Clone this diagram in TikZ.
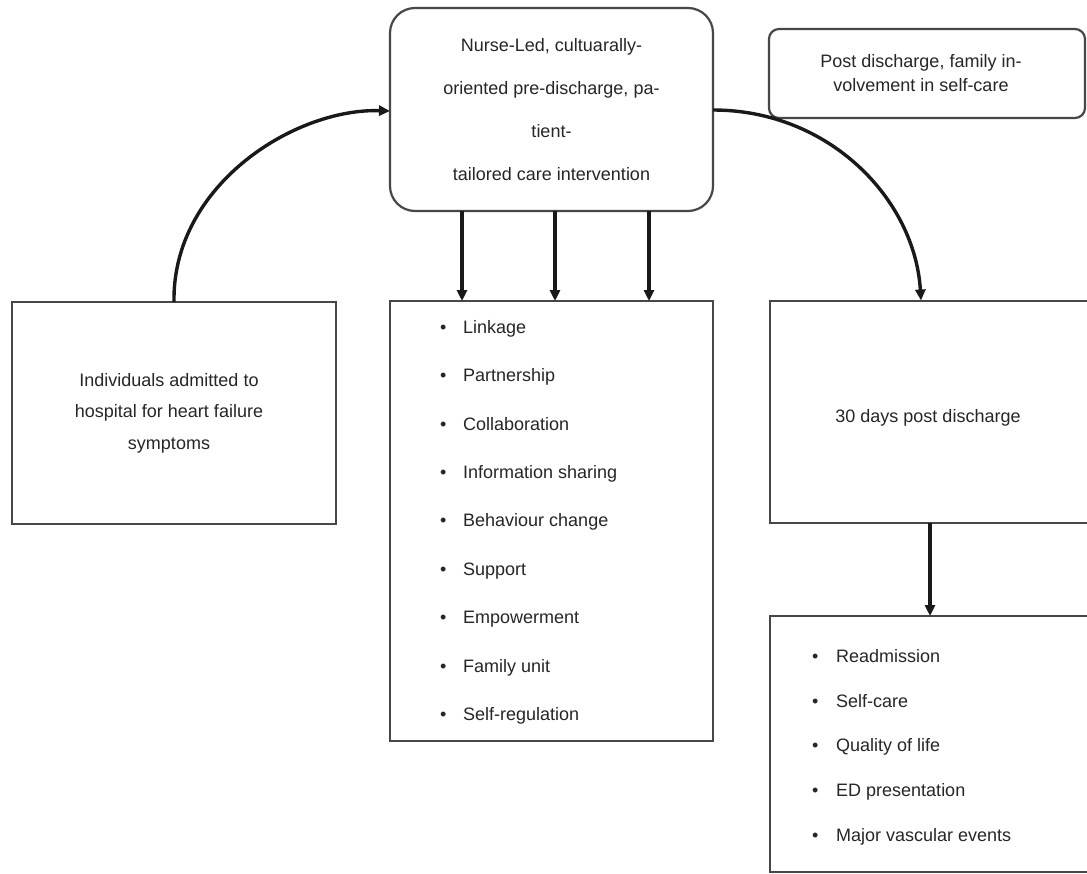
\documentclass[tikz,border=0pt]{standalone}
\usepackage{fontspec}
\setmainfont{Liberation Sans}
\usetikzlibrary{arrows.meta}
\begin{document}
\begin{tikzpicture}[x=1pt,y=-1pt,
  box/.style={draw=black!72,line width=2.2pt,fill=white,inner sep=0pt,outer sep=0pt,
     text=black!85,font=\fontsize{18}{22}\selectfont,align=center},
  rbox/.style={box,rounded corners=#1},
  item/.style={anchor=west,inner sep=0pt,text=black!85,font=\fontsize{18}{22}\selectfont,
     text height=12pt,text depth=3.5pt},
  conn/.style={line width=3.4pt,black!90,-{Triangle[length=11pt,width=10pt]}}]
\clip (0,0) rectangle (1087,873);
\fill[white] (0,0) rectangle (1087,873);
% boxes
\node[rbox=25pt,minimum width=323pt,minimum height=203pt,font=\fontsize{18}{43}\selectfont]
  (top) at (551.5,109.5) {Nurse-Led, cultuarally-\\oriented pre-discharge, pa-\\tient-\\tailored care intervention};
\node[rbox=10pt,minimum width=316pt,minimum height=89pt,font=\fontsize{18}{24}\selectfont]
  (post) at (927,73.5) {\hspace*{-12pt}Post discharge, family in-\\\hspace*{-12pt}volvement in self-care};
\node[box,minimum width=324pt,minimum height=222pt,font=\fontsize{18}{31.5}\selectfont]
  (adm) at (174,413) {\hspace*{-10pt}Individuals admitted to\\\hspace*{-10pt}hospital for heart failure\\\hspace*{-10pt}symptoms};
\node[box,minimum width=323pt,minimum height=440pt] (mid) at (551.5,521) {};
\node[box,minimum width=330pt,minimum height=222pt] (day) at (935,412) {};
\node[box,minimum width=330pt,minimum height=256pt] (out) at (935,744) {};
\node[item,anchor=center] (daytxt) at (928,418) {30 days post discharge};
% middle list
\foreach \t [count=\i] in {Linkage,Partnership,Collaboration,Information sharing,Behaviour change,Support,Empowerment,Family unit,Self-regulation}
  \node[item] (m\i) at (440,{329+48.4*(\i-1)}) {\makebox[23pt][l]{\textbullet}\t};
% outcome list
\foreach \t [count=\i] in {Readmission,Self-care,Quality of life,ED presentation,Major vascular events}
  \node[item] (o\i) at (812,{658+44.8*(\i-1)}) {\makebox[24pt][l]{\textbullet}\t};
% connectors
\coordinate (a1s) at (174,301.5);
\draw[conn] (adm.north -| a1s) .. controls (172,185) and (295,108) .. (top.west |- 0,111);
\draw[conn] (top.east |- 0,110) .. controls (830,110) and (915,200) .. (921,300.5);
\foreach \x in {462,555,649}
  \draw[conn] (top.south -| \x,0) -- (mid.north -| \x,0);
\draw[conn] (day.south -| 930,0) -- (out.north -| 930,0);
\end{tikzpicture}
\end{document}
